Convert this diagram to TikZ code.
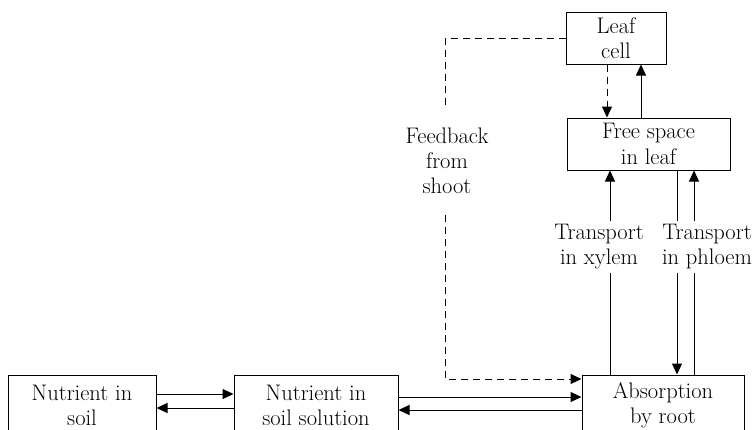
\documentclass[tikz,border=0pt]{standalone}
\usepackage{fontspec}
\setmainfont{Latin Modern Roman}
\usetikzlibrary{arrows.meta}
\begin{document}
\begin{tikzpicture}[x=1pt,y=-1pt,line width=1pt,
  box/.style={draw,rectangle,align=center,inner sep=0pt,font=\fontsize{22.5}{25.5}\selectfont},
  lbl/.style={align=center,inner xsep=2pt,font=\fontsize{22.5}{25}\selectfont},
  arr/.style={-{Triangle[length=11pt,width=10pt]}},
  fb/.style={dashed,dash pattern=on 7pt off 5pt}]
\useasboundingbox (0,0) rectangle (752,429);
% boxes
\node[box,minimum width=148,minimum height=61] (soil) at (82,405.5) {Nutrient in\\soil};
\node[box,minimum width=164,minimum height=61] (sol) at (316,405.5) {Nutrient in\\soil solution};
\node[box,minimum width=162,minimum height=61] (abs) at (663,405.5) {Absorption\\by root};
\node[box,minimum width=100,minimum height=52] (leaf) at (616,38) {Leaf\\cell};
\node[box,minimum width=163,minimum height=52] (free) at (648.5,144) {Free space\\in leaf};
% labels
\node[lbl,inner ysep=3pt] (xyl) at (599,247) {Transport\\in xylem};
\node[lbl,inner ysep=3pt] (phl) at (707,247) {Transport\\in phloem};
\node[lbl,inner ysep=21pt] (feed) at (447,161) {Feedback\\from\\shoot};
% helper coordinates
\coordinate (y394) at (0,394);
\coordinate (y408) at (0,408);
\coordinate (y397) at (0,397);
\coordinate (y410) at (0,410);
\coordinate (y379) at (0,379);
\coordinate (y38) at (0,38);
\coordinate (x607) at (607,0);
\coordinate (x641) at (641,0);
\coordinate (x610) at (610,0);
\coordinate (x677) at (677,0);
\coordinate (x694) at (694,0);
\coordinate (x445) at (445,0);
% bottom arrows
\draw[arr] (soil.east |- y394) -- (sol.west |- y394);
\draw[arr] (sol.west |- y408) -- (soil.east |- y408);
\draw[arr] (sol.east |- y397) -- (abs.west |- y397);
\draw[arr] (abs.west |- y410) -- (sol.east |- y410);
% leaf arrows
\draw[arr,fb] (leaf.south -| x607) -- (free.north -| x607);
\draw[arr] (free.north -| x641) -- (leaf.south -| x641);
% xylem
\draw (abs.north -| x610) -- (xyl.south -| x610);
\draw[arr] (xyl.north -| x610) -- (free.south -| x610);
% phloem down
\draw (free.south -| x677) -- (phl.north -| x677);
\draw[arr] (phl.south -| x677) -- (abs.north -| x677);
% phloem up
\draw (abs.north -| x694) -- (phl.south -| x694);
\draw[arr] (phl.north -| x694) -- (free.south -| x694);
% feedback
\draw[fb] (leaf.west |- y38) -| (feed.north -| x445);
\draw[arr,fb] (feed.south -| x445) |- (abs.west |- y379);
\end{tikzpicture}
\end{document}
